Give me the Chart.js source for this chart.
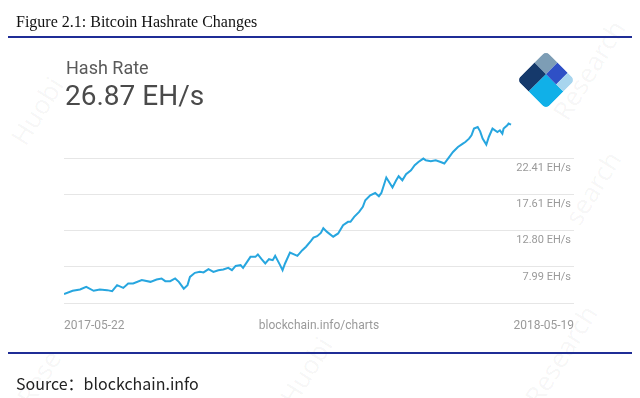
<!DOCTYPE html>
<html><head><meta charset="utf-8">
<script src="https://cdn.jsdelivr.net/npm/chart.js@4"></script>
<style>
html,body{margin:0;padding:0;background:#fff;}
body{width:640px;height:398px;position:relative;overflow:hidden;}
canvas{position:absolute;left:0;top:0;z-index:1;}
.t{position:absolute;white-space:nowrap;line-height:1;z-index:2;}
.wm{position:absolute;white-space:nowrap;line-height:1;z-index:0;font-family:'Noto Sans';font-size:26px;color:rgba(0,0,0,0.045);transform-origin:0 0;}
.rule{position:absolute;height:1.5px;background:#1f2d96;z-index:2;}
</style></head><body>
<div class="wm" style="left:6px;top:135px;transform:rotate(-58deg);">Huobi</div>
<div class="wm" style="left:548px;top:110px;transform:rotate(-58deg);">Research</div>
<div class="wm" style="left:560px;top:215px;transform:rotate(-58deg);">search</div>
<div class="wm" style="left:12px;top:395px;transform:rotate(-58deg);">Rese</div>
<div class="wm" style="left:275px;top:395px;transform:rotate(-58deg);">Huobi</div>
<div class="wm" style="left:520px;top:395px;transform:rotate(-58deg);">Research</div>
<canvas id="c" width="640" height="398"></canvas>
<div class="t" style="left:16px;top:14px;font-family:'Liberation Serif';font-size:16px;color:#111;">Figure 2.1: Bitcoin Hashrate Changes</div>
<div class="rule" style="left:8px;top:36px;width:624px;"></div>
<div class="t" style="left:66px;top:59px;font-family:Roboto;font-size:18px;color:#5a5a5a;">Hash Rate</div>
<div class="t" style="left:65px;top:82px;font-family:Roboto;font-size:28px;color:#4a4a4a;">26.87 EH/s</div>
<svg style="position:absolute;left:516px;top:50px;z-index:2" width="60" height="62">
  <defs><clipPath id="cp"><rect x="0" y="0" width="41" height="41" rx="5" ry="5"/></clipPath></defs>
  <g transform="translate(30,1) rotate(45)" clip-path="url(#cp)">
    <rect x="0" y="0" width="16.4" height="16.4" fill="#7d9db5"/>
    <rect x="0" y="16.4" width="16.4" height="24.6" fill="#15396b"/>
    <rect x="16.4" y="16.4" width="24.6" height="24.6" fill="#10b0e8"/>
    <rect x="16.4" y="0" width="14.4" height="16.4" fill="#2f50c6"/>
    <rect x="30.8" y="0" width="10.2" height="16.4" fill="#a8d5ee"/>
  </g>
</svg>
<div class="rule" style="left:8px;top:352px;width:624px;"></div>
<div class="t" style="left:16px;top:375px;font-family:'Noto Sans CJK SC';font-size:16px;color:#222;">Source：blockchain.info</div>
<script>
const days = [0,7,13,18,24,29,35,39,43,48,52,56,63,70,75,79,82,86,90,93,97,100,102,106,110,113,117,121,125,129,133,136,139,143,145,151,155,157,160,163,166,169,171,175,177,179,183,189,193,196,200,202,205,208,210,213,218,222,226,230,232,235,239,242,244,248,252,255,257,261,264,266,269,271,274,277,281,284,287,291,293,297,301,305,308,311,315,319,323,325,328,330,332,335,337,339,342,344,347,351,353,355,356,359,360,362];
const hashRate = [4.36,4.80,4.98,5.33,4.80,4.98,4.89,4.76,5.55,5.19,5.78,5.78,6.22,5.99,6.31,6.44,6.08,6.08,6.44,5.99,5.09,5.55,6.65,7.19,7.32,7.24,7.68,7.32,7.54,7.64,7.85,7.54,8.11,8.21,7.85,9.31,9.31,9.63,9.00,8.43,9.00,8.87,9.44,8.21,7.54,8.43,9.89,9.44,10.20,10.66,11.43,11.86,12.06,12.49,13.12,12.63,11.99,12.42,13.52,13.96,13.96,14.62,15.28,15.95,16.84,17.50,17.80,17.37,17.80,19.85,19.05,18.52,19.49,20.02,19.49,20.29,20.82,21.48,21.92,22.37,22.14,22.01,22.14,21.92,21.71,22.37,23.25,23.91,24.36,24.57,25.02,25.46,26.35,26.56,25.99,25.02,24.23,25.24,26.35,25.90,26.13,25.69,26.35,26.79,27.02,26.87];
const yTickValues = [3.18, 7.99, 12.80, 17.61, 22.41];
const yTickLabels = ['', '7.99 EH/s', '12.80 EH/s', '17.61 EH/s', '22.41 EH/s'];
const xTickValues = [0, 206.5, 413];
const xTickLabels = ['2017-05-22', 'blockchain.info/charts', '2018-05-19'];

Chart.defaults.font.family = 'Roboto';
new Chart(document.getElementById('c'), {
  type: 'line',
  data: { datasets: [{
    data: days.map((d, i) => ({ x: d, y: hashRate[i] })),
    borderColor: '#27a6df', borderWidth: 2, pointRadius: 0, tension: 0, fill: false
  }] },
  options: {
    responsive: false, animation: false, devicePixelRatio: 1,
    layout: { padding: { left: 64, top: 115, right: 66, bottom: 55 } },
    plugins: { legend: { display: false }, tooltip: { enabled: false } },
    scales: {
      x: {
        type: 'linear', min: 0, max: 413,
        grid: { display: false }, border: { display: false },
        afterBuildTicks: s => { s.ticks = xTickValues.map(v => ({ value: v })); },
        afterFit: s => { s.height = 40; },
        ticks: { align: 'inner', padding: 8, maxRotation: 0, autoSkip: false, color: '#9a9a9a',
                 font: { family: 'Roboto', size: 12 }, callback: (v, i) => xTickLabels[i] }
      },
      y: {
        position: 'right', min: 3.18, max: 28.16,
        grid: { color: '#e6e6e6', drawTicks: false, lineWidth: 1 }, border: { display: false },
        afterBuildTicks: s => { s.ticks = yTickValues.map(v => ({ value: v })); },
        ticks: { mirror: true, padding: -3, labelOffset: 10, color: '#9a9a9a',
                 font: { family: 'Roboto', size: 11 }, callback: (v, i) => yTickLabels[i] }
      }
    }
  }
});
</script>
</body></html>
